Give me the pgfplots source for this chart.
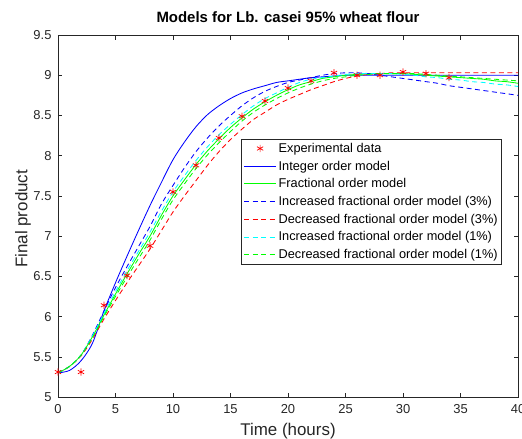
\documentclass[border=0pt]{standalone}
\usepackage{fontspec}
\setmainfont{Liberation Sans}
\usepackage{pgfplots}
\usepackage{pgfplotstable}
\pgfplotsset{compat=1.18}

\pgfplotstableread{
t    y
0    5.31
2    5.31
4    6.14
6    6.51
8    6.88
10   7.55
12   7.88
14   8.22
16   8.49
18   8.68
20   8.84
22   8.93
24   9.03
26   9.00
28   9.00
30   9.04
32   9.02
34   8.97
}\expdata

\pgfplotstableread{
t   I    F    BI   RD   CI   GD
0   5.30 5.30 5.30 5.30 5.30 5.30
1   5.33 5.38 5.38 5.38 5.38 5.38
2   5.45 5.52 5.52 5.51 5.52 5.52
3   5.67 5.75 5.77 5.72 5.76 5.74
4   6.07 6.02 6.07 5.97 6.04 6.00
5   6.42 6.28 6.36 6.20 6.31 6.25
6   6.75 6.53 6.62 6.42 6.57 6.49
7   7.07 6.77 6.87 6.63 6.81 6.72
8   7.38 7.00 7.12 6.84 7.05 6.95
9   7.67 7.26 7.40 7.07 7.31 7.21
10  7.95 7.50 7.63 7.30 7.55 7.45
11  8.17 7.70 7.85 7.50 7.75 7.65
12  8.36 7.89 8.05 7.69 7.94 7.84
13  8.51 8.06 8.22 7.88 8.11 8.01
14  8.62 8.21 8.37 8.05 8.26 8.16
15  8.71 8.35 8.50 8.20 8.39 8.30
16  8.78 8.47 8.62 8.33 8.51 8.43
17  8.83 8.58 8.72 8.45 8.62 8.54
18  8.87 8.67 8.80 8.54 8.71 8.63
19  8.91 8.75 8.86 8.63 8.78 8.71
20  8.93 8.82 8.91 8.70 8.85 8.78
21  8.95 8.88 8.94 8.76 8.91 8.84
22  8.97 8.92 8.97 8.82 8.95 8.89
23  8.98 8.96 9.00 8.87 8.97 8.93
24  8.99 8.98 9.02 8.92 8.99 8.96
25  9.00 9.00 9.03 8.96 9.01 8.98
26  9.00 9.01 9.03 8.99 9.02 9.00
27  9.00 9.02 9.02 9.01 9.02 9.01
28  9.00 9.02 9.00 9.02 9.02 9.02
29  9.00 9.02 8.98 9.03 9.02 9.02
30  9.00 9.02 8.96 9.03 9.01 9.02
31  9.00 9.01 8.94 9.03 9.00 9.02
32  9.00 9.00 8.92 9.03 8.98 9.01
33  9.00 8.99 8.90 9.03 8.97 9.00
34  9.00 8.98 8.87 9.03 8.95 8.99
35  9.00 8.97 8.85 9.03 8.94 8.98
36  9.00 8.96 8.83 9.03 8.92 8.97
37  9.00 8.95 8.81 9.03 8.91 8.96
38  9.00 8.93 8.79 9.03 8.89 8.95
39  9.00 8.92 8.77 9.03 8.88 8.94
40  9.00 8.90 8.75 9.03 8.86 8.93
}\models

\definecolor{axgray}{rgb}{0.15,0.15,0.15}
\definecolor{mblue}{rgb}{0,0,1}
\definecolor{mgreen}{rgb}{0,1,0}
\definecolor{mred}{rgb}{1,0,0}
\definecolor{mcyan}{rgb}{0,1,1}

\pgfplotsset{
  linelegend/.style={legend image code/.code={\draw[##1, line width=1.1bp] (0bp,0bp) -- (32bp,0bp);}},
  marklegend/.style={legend image code/.code={\draw[##1] plot coordinates {(16bp,0bp)};}},
}

\begin{document}
\begin{tikzpicture}
\path[use as bounding box] (-58bp,-42bp) rectangle (464bp,397bp);
\begin{axis}[
  at={(0,0)}, anchor=south west,
  scale only axis,
  width=460bp, height=362bp,
  xmin=0, xmax=40, ymin=5, ymax=9.5,
  xtick={0,5,...,40},
  ytick={5,5.5,...,9.5},
  /pgf/number format/assume math mode=true,
  tick label style={font=\fontsize{13}{15}\selectfont, text=axgray},
  axis line style={axgray, line width=0.5bp},
  tick style={axgray, line width=0.5bp},
  tick align=inside,
  major tick length=4.5bp,
  xticklabel style={yshift=-4bp},
  yticklabel style={xshift=-3bp},
  title={\textbf{Models for Lb. casei 95\% wheat flour}},
  title style={font=\fontsize{15}{17}\selectfont, at={(axis description cs:0.5,1)}, anchor=base, yshift=7bp},
  xlabel={Time (hours)},
  xlabel style={font=\fontsize{17}{19}\selectfont, text=axgray, at={(axis description cs:0.5,0)}, anchor=base, yshift=-38.5bp},
  ylabel={Final product},
  ylabel style={font=\fontsize{17}{19}\selectfont, text=axgray, at={(axis description cs:-0.0667,0.492)}, anchor=base},
  legend style={
    at={(axis description cs:0.965,0.713)}, anchor=north east,
    draw=axgray, line width=0.5bp, fill=white,
    font=\fontsize{12.8}{14.5}\selectfont,
    row sep=3bp, inner sep=2bp,
    cells={anchor=west},
  },
  legend cell align=left,
  linelegend,
  every axis plot/.append style={line width=0.85bp},
]
\addplot[only marks, mark=asterisk, mark size=3.6bp, color=mred, draw=mred, mark options={line width=0.7bp, draw=mred}, marklegend]
  table[x=t, y=y] {\expdata};
\addlegendentry{Experimental data}
\addplot[color=mblue, draw=mblue, smooth] table[x=t, y=I] {\models};
\addlegendentry{Integer order model}
\addplot[color=mgreen, draw=mgreen, smooth] table[x=t, y=F] {\models};
\addlegendentry{Fractional order model}
\addplot[color=mblue, draw=mblue, smooth, dash pattern=on 5bp off 3.5bp] table[x=t, y=BI] {\models};
\addlegendentry{Increased fractional order model (3\%)}
\addplot[color=mred, draw=mred, smooth, dash pattern=on 5bp off 3.5bp] table[x=t, y=RD] {\models};
\addlegendentry{Decreased fractional order model (3\%)}
\addplot[color=mcyan, draw=mcyan, smooth, dash pattern=on 5bp off 3.5bp] table[x=t, y=CI] {\models};
\addlegendentry{Increased fractional order model (1\%)}
\addplot[color=mgreen, draw=mgreen, smooth, dash pattern=on 5bp off 3.5bp] table[x=t, y=GD] {\models};
\addlegendentry{Decreased fractional order model (1\%)}
\end{axis}
\end{tikzpicture}
\end{document}
